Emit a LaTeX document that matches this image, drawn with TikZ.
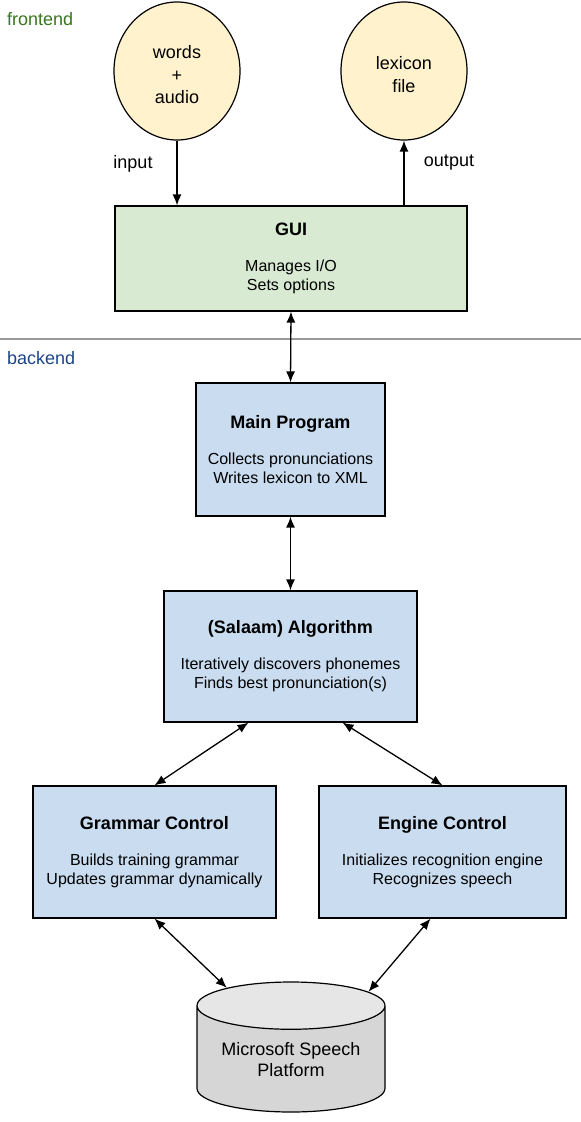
\documentclass[tikz,border=0pt]{standalone}
\usepackage{fontspec}
\setmainfont{Liberation Sans}
\usetikzlibrary{calc,shapes.geometric,arrows.meta}
\definecolor{circfill}{HTML}{FFF2CC}
\definecolor{guifill}{HTML}{D9EAD3}
\definecolor{boxfill}{HTML}{C9DCF0}
\definecolor{dbbody}{HTML}{D6D6D6}
\definecolor{dbtop}{HTML}{E6E6E6}
\definecolor{frontgreen}{HTML}{38761D}
\definecolor{backblue}{HTML}{1C4587}
\tikzset{
	blob/.style={ellipse, draw, line width=1.2pt, fill=circfill, inner sep=0pt,
		minimum width=126pt, minimum height=138pt, align=center,
		font=\fontsize{18}{22.5}\selectfont},
	module/.style={rectangle, draw, line width=1.2pt, fill=boxfill, align=center,
		inner sep=0pt, font=\fontsize{16}{19}\selectfont},
	lbl/.style={font=\fontsize{18}{22}\selectfont, inner sep=0pt},
	link/.style={-{Latex[length=11pt,width=9pt]}, line width=1.3pt},
	dlink/.style={{Latex[length=11pt,width=9pt]}-{Latex[length=11pt,width=9pt]}, line width=1.3pt},
}
\newcommand{\modtext}[3]{{\fontsize{18}{19}\selectfont\bfseries #1}\\[17pt]#2\\#3}

\begin{document}
\begin{tikzpicture}[x=1pt,y=-1pt]
		\useasboundingbox (0,0) rectangle (581,1122);
		%%%%% FRONTEND %%%%%
		\node[lbl, anchor=west, text=frontgreen] (front) at (7,19) {frontend};
		
		\node[blob] (words) at (177,71) {\\[-2pt]words\\+\\audio};
		\node[blob] (lex) at (404,71) {\\[-2pt]lexicon\\file};
		
		\node[module, fill=guifill, minimum width=352pt, minimum height=105pt] (gui) at (291,258.5)
			{\modtext{GUI}{Manages I/O}{Sets options}};
		
		\draw[link] (words.south) -- (words.south |- gui.north);
		\draw[link] (lex.south |- gui.north) -- (lex.south);
		\node[lbl] (inlbl) at (133,164) {input};
		\node[lbl] (outlbl) at (449,163) {output};
		
		%%%%% DIVIDER %%%%%
		\draw[line width=1.2pt, black!40] (0,339) -- (581,339);
		\node[lbl, anchor=west, text=backblue] (back) at (7,358) {backend};
		
		%%%%% BACKEND %%%%%
		\node[module, minimum width=189pt, minimum height=133pt] (main) at (290.5,449.5)
			{\modtext{Main Program}{Collects pronunciations}{Writes lexicon to XML}};
		\node[module, minimum width=253pt, minimum height=131pt] (algo) at (290.5,656.5)
			{\modtext{(Salaam) Algorithm}{Iteratively discovers phonemes}{Finds best pronunciation(s)}};
		\node[module, minimum width=243pt, minimum height=132pt] (gram) at (154.5,852)
			{\modtext{Grammar Control}{Builds training grammar}{Updates grammar dynamically}};
		\node[module, minimum width=247pt, minimum height=132pt] (eng) at (442.5,852)
			{\modtext{Engine Control}{Initializes recognition engine}{Recognizes speech}};
		
		\node[cylinder, shape border rotate=90, draw, line width=1.2pt, aspect=0.34,
			cylinder uses custom fill, cylinder body fill=dbbody, cylinder end fill=dbtop,
			minimum width=188pt, minimum height=130pt, inner sep=0pt, align=center,
			anchor=shape center, font=\fontsize{18}{21}\selectfont] (msp) at (291,1047)
			{Microsoft Speech\\Platform};
		
		\draw[dlink] (gui.south) -- (main.north);
		\draw[dlink] (main.south) -- (algo.north);
		\draw[dlink] ($(algo.south)+(-42,0)$) -- (gram.north);
		\draw[dlink] ($(algo.south)+(52,0)$) -- (eng.north);
		\draw[dlink] (gram.south) -- (msp.132);
		\draw[dlink] ($(eng.south)+(-12,0)$) -- (msp.41);
		%%%%% END %%%%%
\end{tikzpicture}
\end{document}
